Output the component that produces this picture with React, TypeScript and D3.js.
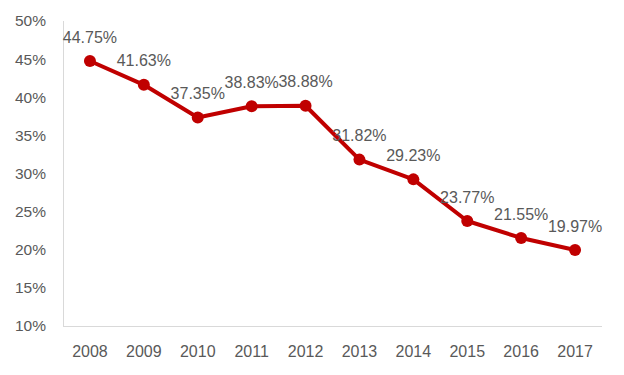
import * as d3 from "d3";
import { useEffect, useRef } from "react";

const years = ["2008", "2009", "2010", "2011", "2012", "2013", "2014", "2015", "2016", "2017"];
const rates = [44.75, 41.63, 37.35, 38.83, 38.88, 31.82, 29.23, 23.77, 21.55, 19.97];
const yTicks = [10, 15, 20, 25, 30, 35, 40, 45, 50];

export default function App() {
  const ref = useRef<SVGSVGElement | null>(null);

  useEffect(() => {
    const svg = d3.select(ref.current);
    svg.selectAll("*").remove();

    const width = 624;
    const height = 375;
    const left = 63;
    const right = 602;
    const top = 21;
    const bottom = 326;
    const textColor = "#595959";
    const red = "#C00000";
    const font = "'Liberation Sans', Arial, sans-serif";

    svg.attr("width", width).attr("height", height);

    const x = d3.scaleBand<string>().domain(years).range([left, right]).padding(0);
    const y = d3.scaleLinear().domain([10, 50]).range([bottom, top]);
    const cx = (d: string) => (x(d) ?? 0) + x.bandwidth() / 2;

    // axes lines
    svg
      .append("line")
      .attr("x1", left + 0.5)
      .attr("x2", left + 0.5)
      .attr("y1", top)
      .attr("y2", bottom)
      .attr("stroke", "#D9D9D9");
    svg
      .append("line")
      .attr("x1", left)
      .attr("x2", right)
      .attr("y1", bottom + 0.5)
      .attr("y2", bottom + 0.5)
      .attr("stroke", "#D9D9D9");

    // y tick labels
    svg
      .selectAll("text.ytick")
      .data(yTicks)
      .enter()
      .append("text")
      .attr("class", "ytick")
      .attr("x", 46)
      .attr("y", (d) => y(d))
      .attr("dy", "0.35em")
      .attr("text-anchor", "end")
      .attr("fill", textColor)
      .style("font-family", font)
      .style("font-size", "15.5px")
      .text((d) => `${d}%`);

    // x labels
    svg
      .selectAll("text.xtick")
      .data(years)
      .enter()
      .append("text")
      .attr("class", "xtick")
      .attr("x", (d) => cx(d))
      .attr("y", 351)
      .attr("dy", "0.35em")
      .attr("text-anchor", "middle")
      .attr("fill", textColor)
      .style("font-family", font)
      .style("font-size", "16px")
      .text((d) => d);

    const data = years.map((yr, i) => ({ year: yr, value: rates[i] }));

    const line = d3
      .line<{ year: string; value: number }>()
      .x((d) => cx(d.year))
      .y((d) => y(d.value));

    svg
      .append("path")
      .datum(data)
      .attr("d", line)
      .attr("fill", "none")
      .attr("stroke", red)
      .attr("stroke-width", 4)
      .attr("stroke-linejoin", "round");

    svg
      .selectAll("circle.pt")
      .data(data)
      .enter()
      .append("circle")
      .attr("class", "pt")
      .attr("cx", (d) => cx(d.year))
      .attr("cy", (d) => y(d.value))
      .attr("r", 6)
      .attr("fill", red);

    // 값 라벨
    svg
      .selectAll("text.val")
      .data(data)
      .enter()
      .append("text")
      .attr("class", "val")
      .attr("x", (d) => cx(d.year))
      .attr("y", (d) => y(d.value) - 24)
      .attr("dy", "0.35em")
      .attr("text-anchor", "middle")
      .attr("fill", textColor)
      .style("font-family", font)
      .style("font-size", "16px")
      .text((d) => `${d.value.toFixed(2)}%`);
  }, []);

  return (
    <div style={{ position: "absolute", left: 0, top: 0 }}>
      <svg ref={ref}></svg>
    </div>
  );
}
